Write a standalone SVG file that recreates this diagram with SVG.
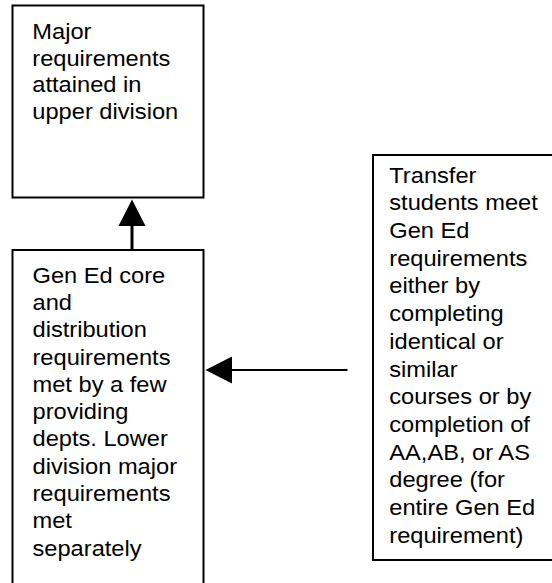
<svg xmlns="http://www.w3.org/2000/svg" width="552" height="583" viewBox="0 0 552 583">
  <style>
    .box { fill: #ffffff; stroke: #000000; stroke-width: 2; }
    .conn { stroke: #000000; fill: none; }
    text { font-family: "Liberation Sans", Arial, sans-serif; font-size: 21.5px; fill: #000000; }
  </style>
  <defs>
    <marker id="arrow" markerUnits="userSpaceOnUse" markerWidth="28" markerHeight="28" viewBox="0 -14 28 28" refX="0" refY="0" orient="auto" overflow="visible">
      <path d="M0,-13.5 L26.5,0 L0,13.5 Z" fill="#000000"/>
    </marker>
  </defs>
  <rect x="0" y="0" width="552" height="583" fill="#ffffff"/>

  <g id="node-major">
    <rect class="box" x="12.5" y="5.5" width="191" height="192"/>
    <g transform="translate(32.3,0) scale(1.1,1)">
      <text x="0" y="39.3">Major</text>
      <text x="0" y="65.9">requirements</text>
      <text x="0" y="92.5">attained in</text>
      <text x="0" y="119.1">upper division</text>
    </g>
  </g>

  <g id="node-gened">
    <rect class="box" x="12.5" y="250" width="191" height="345"/>
    <g transform="translate(32.5,0) scale(1.1,1)">
      <text x="0" y="282.7">Gen Ed core</text>
      <text x="0" y="310.0">and</text>
      <text x="0" y="337.3">distribution</text>
      <text x="0" y="364.6">requirements</text>
      <text x="0" y="391.9">met by a few</text>
      <text x="0" y="419.2">providing</text>
      <text x="0" y="446.5">depts. Lower</text>
      <text x="0" y="473.8">division major</text>
      <text x="0" y="501.1">requirements</text>
      <text x="0" y="528.4">met</text>
      <text x="0" y="555.7">separately</text>
    </g>
  </g>

  <g id="node-transfer">
    <rect class="box" x="373" y="155" width="200" height="405"/>
    <g transform="translate(389.3,0) scale(1.1,1)">
      <text x="0" y="182.7">Transfer</text>
      <text x="0" y="210.4">students meet</text>
      <text x="0" y="238.1">Gen Ed</text>
      <text x="0" y="265.8">requirements</text>
      <text x="0" y="293.5">either by</text>
      <text x="0" y="321.2">completing</text>
      <text x="0" y="348.9">identical or</text>
      <text x="0" y="376.6">similar</text>
      <text x="0" y="404.3">courses or by</text>
      <text x="0" y="432.0">completion of</text>
      <text x="0" y="459.7">AA,AB, or AS</text>
      <text x="0" y="487.4">degree (for</text>
      <text x="0" y="515.1">entire Gen Ed</text>
      <text x="0" y="542.8">requirement)</text>
    </g>
  </g>

  <g id="connectors">
    <line class="conn" x1="132" y1="250" x2="132" y2="226" stroke-width="3" marker-end="url(#arrow)"/>
    <line class="conn" x1="347.5" y1="370" x2="232" y2="370" stroke-width="2" marker-end="url(#arrow)"/>
  </g>
</svg>
